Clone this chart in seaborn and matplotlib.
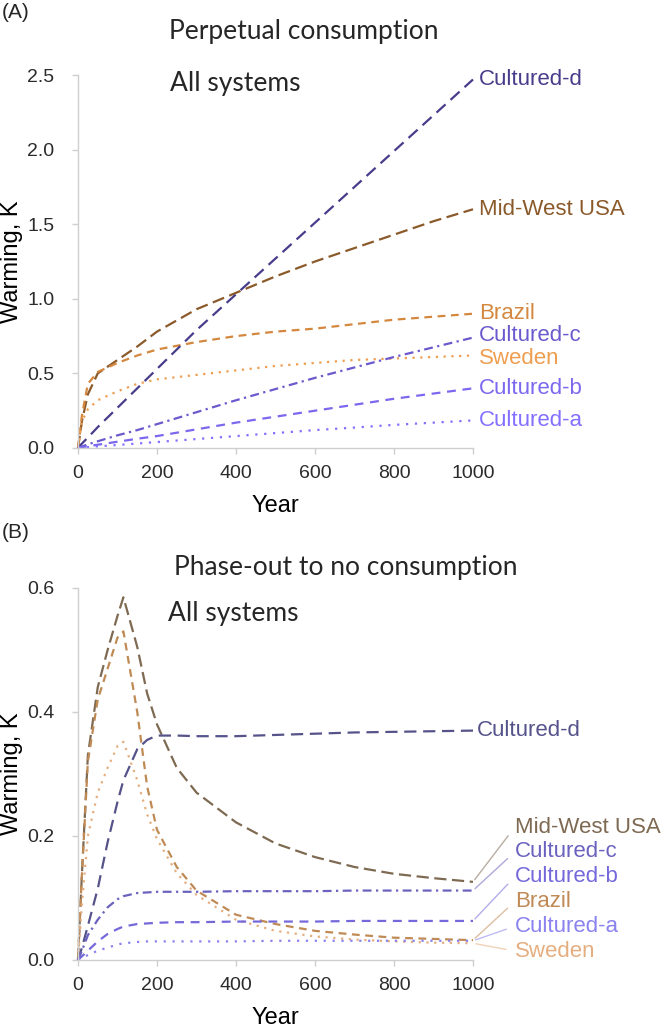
import numpy as np
import pandas as pd
import seaborn as sns
import matplotlib.pyplot as plt

# ---- data ----
systems = ["Mid-West USA", "Brazil", "Sweden", "Cultured-d", "Cultured-c", "Cultured-b", "Cultured-a"]

# (A) perpetual consumption
years_a = [0, 10, 25, 50, 100, 150, 200, 300, 400, 500, 600, 700, 800, 900, 1000]
midwest_a = [0, 0.18, 0.36, 0.50, 0.59, 0.68, 0.78, 0.93, 1.04, 1.15, 1.25, 1.34, 1.43, 1.52, 1.60]
brazil_a = [0, 0.22, 0.43, 0.51, 0.57, 0.62, 0.66, 0.71, 0.75, 0.78, 0.80, 0.83, 0.86, 0.88, 0.90]
sweden_a = [0, 0.18, 0.26, 0.32, 0.38, 0.43, 0.46, 0.49, 0.52, 0.55, 0.57, 0.59, 0.60, 0.61, 0.62]
cult_d_a = [0, 0.03, 0.07, 0.14, 0.27, 0.40, 0.53, 0.79, 1.03, 1.27, 1.51, 1.75, 1.99, 2.23, 2.47]
cult_c_a = [0, 0.01, 0.025, 0.045, 0.085, 0.12, 0.16, 0.24, 0.32, 0.395, 0.47, 0.54, 0.61, 0.675, 0.74]
cult_b_a = [0, 0.005, 0.012, 0.022, 0.042, 0.062, 0.08, 0.125, 0.17, 0.21, 0.25, 0.29, 0.33, 0.365, 0.40]
cult_a_a = [0, 0.002, 0.006, 0.011, 0.02, 0.03, 0.04, 0.06, 0.08, 0.10, 0.12, 0.137, 0.155, 0.17, 0.185]

# (B) phase-out to no consumption
years_b = [0, 10, 25, 50, 75, 100, 115, 150, 175, 200, 250, 300, 400, 500, 600, 700, 800, 900, 1000]
midwest_b = [0, 0.14, 0.33, 0.44, 0.50, 0.555, 0.585, 0.505, 0.43, 0.38, 0.31, 0.27, 0.222, 0.188, 0.166, 0.15, 0.139, 0.132, 0.126]
brazil_b = [0, 0.14, 0.32, 0.42, 0.47, 0.52, 0.53, 0.40, 0.28, 0.21, 0.15, 0.112, 0.073, 0.058, 0.047, 0.041, 0.036, 0.034, 0.032]
sweden_b = [0, 0.09, 0.20, 0.27, 0.31, 0.345, 0.352, 0.29, 0.235, 0.195, 0.14, 0.105, 0.065, 0.047, 0.038, 0.033, 0.030, 0.028, 0.027]
cult_d_b = [0, 0.02, 0.055, 0.115, 0.19, 0.255, 0.29, 0.34, 0.355, 0.362, 0.362, 0.361, 0.361, 0.363, 0.365, 0.367, 0.368, 0.369, 0.37]
cult_c_b = [0, 0.015, 0.04, 0.065, 0.085, 0.098, 0.103, 0.108, 0.109, 0.11, 0.11, 0.11, 0.111, 0.111, 0.111, 0.112, 0.112, 0.112, 0.112]
cult_b_b = [0, 0.006, 0.015, 0.03, 0.042, 0.05, 0.054, 0.058, 0.059, 0.06, 0.061, 0.061, 0.062, 0.062, 0.062, 0.063, 0.063, 0.063, 0.063]
cult_a_b = [0, 0.003, 0.008, 0.015, 0.02, 0.025, 0.027, 0.029, 0.03, 0.03, 0.03, 0.03, 0.03, 0.031, 0.031, 0.031, 0.031, 0.031, 0.031]

ticks_a = [0, 0.5, 1.0, 1.5, 2.0, 2.5]
ticks_b = [0, 0.2, 0.4, 0.6]
year_ticks = [0, 200, 400, 600, 800, 1000]

# order of the side labels in panel B (top to bottom)
side_order_b = ["Mid-West USA", "Cultured-c", "Cultured-b", "Brazil", "Cultured-a", "Sweden"]

# ---- styles ----
colors_a = {"Mid-West USA": "#8B5A2B", "Brazil": "#D4883F", "Sweden": "#EE9E50",
            "Cultured-d": "#483D8B", "Cultured-c": "#6A5ACD", "Cultured-b": "#7B68EE",
            "Cultured-a": "#8470FF"}
colors_b = {"Mid-West USA": "#7E6A52", "Brazil": "#C08A55", "Sweden": "#E5AE80",
            "Cultured-d": "#55538A", "Cultured-c": "#6A62BE", "Cultured-b": "#7468DA",
            "Cultured-a": "#8A82EE"}
dashes = {"Mid-West USA": (5.5, 2.5), "Brazil": (3.5, 2.5), "Sweden": (1, 2.5),
          "Cultured-d": (5.5, 3), "Cultured-c": (4, 2, 1, 2), "Cultured-b": (4, 3),
          "Cultured-a": (1, 3)}
# small vertical nudges (points) so the crowded end labels in A don't collide
nudge_a = {"Cultured-c": 1.5, "Sweden": -2.0}


def long_frame(years, series):
    rows = []
    for name, vals in zip(systems, series):
        rows.append(pd.DataFrame({"year": years, "warming": vals, "system": name}))
    return pd.concat(rows, ignore_index=True)


df_a = long_frame(years_a, [midwest_a, brazil_a, sweden_a, cult_d_a, cult_c_a, cult_b_a, cult_a_a])
df_b = long_frame(years_b, [midwest_b, brazil_b, sweden_b, cult_d_b, cult_c_b, cult_b_b, cult_a_b])

sns.set_theme(style="ticks")
plt.rcParams["font.family"] = ["Liberation Sans", "DejaVu Sans"]

W, H = 668, 1027
fig = plt.figure(figsize=(W / 100, H / 100), dpi=100)
ax_a = fig.add_axes([78 / W, 1 - 448 / H, 395 / W, 373 / H])
ax_b = fig.add_axes([78 / W, 1 - 960 / H, 395 / W, 372 / H])

for ax, df, pal, ticks in [(ax_a, df_a, colors_a, ticks_a), (ax_b, df_b, colors_b, ticks_b)]:
    sns.lineplot(data=df, x="year", y="warming", hue="system", style="system",
                 palette=pal, dashes=dashes, linewidth=1.6, legend=False,
                 sort=False, ax=ax)
    for ln in ax.get_lines():
        ln.set_clip_on(False)
    ax.set_xlim(0, 1000)
    ax.set_ylim(0, ticks[-1])
    ax.set_xticks(year_ticks)
    ax.set_yticks(ticks)
    ax.set_yticklabels([f"{t:.1f}" for t in ticks])
    sns.despine(ax=ax)
    for s in ["left", "bottom"]:
        ax.spines[s].set_color("#cfcfcf")
        ax.spines[s].set_linewidth(1.0)
    ax.tick_params(axis="both", colors="#cfcfcf", labelcolor="#2b2b2b",
                   labelsize=14, length=4, width=1.0)
    ax.tick_params(axis="y", pad=13)
    ax.tick_params(axis="x", pad=8)
    ax.set_xlabel("Year", fontsize=17, color="black", va="center")
    ax.set_ylabel("Warming, K", fontsize=17, color="black", va="center")
    ax.xaxis.set_label_coords(0.5, -0.155)
    ax.yaxis.set_label_coords(-0.167, 0.5)

# panel A: labels at the end of each curve
for name in systems:
    last = df_a[df_a["system"] == name]["warming"].iloc[-1]
    ax_a.annotate(name, xy=(1015, last), xytext=(0, nudge_a.get(name, 0)),
                  textcoords="offset points", color=colors_a[name], fontsize=16,
                  ha="left", va="center", annotation_clip=False)

# panel B: Cultured-d at its curve end, the rest with leader lines
last_d = df_b[df_b["system"] == "Cultured-d"]["warming"].iloc[-1]
ax_b.text(1010, last_d, "Cultured-d", color=colors_b["Cultured-d"], fontsize=16,
          ha="left", va="center")
for i, name in enumerate(side_order_b):
    last = df_b[df_b["system"] == name]["warming"].iloc[-1]
    ax_b.annotate(name, xy=(1000, last), xycoords="data",
                  xytext=(1.106, 0.3575 - i * 0.0667), textcoords="axes fraction",
                  color=colors_b[name], fontsize=16, ha="left", va="center",
                  annotation_clip=False,
                  arrowprops=dict(arrowstyle="-", color=colors_b[name], alpha=0.55,
                                  lw=1.0, shrinkA=4, shrinkB=2,
                                  relpos=(0, 0.5)))

# titles and panel tags
title_font = ["Lato", "DejaVu Sans"]
fig.text(2 / W, 1 - 12 / H, "(A)", fontsize=15, ha="left", va="center")
fig.text(2 / W, 1 - 533 / H, "(B)", fontsize=15, ha="left", va="center")
fig.text(304 / W, 1 - 32 / H, "Perpetual consumption", fontsize=19,
         family=title_font, ha="center", va="center")
fig.text(346 / W, 1 - 567 / H, "Phase-out to no consumption", fontsize=19,
         family=title_font, ha="center", va="center")
fig.text(170 / W, 1 - 83 / H, "All systems", fontsize=19, family=title_font,
         ha="left", va="center")
fig.text(168 / W, 1 - 614 / H, "All systems", fontsize=19, family=title_font,
         ha="left", va="center")

fig.savefig("out.png", dpi=100)
